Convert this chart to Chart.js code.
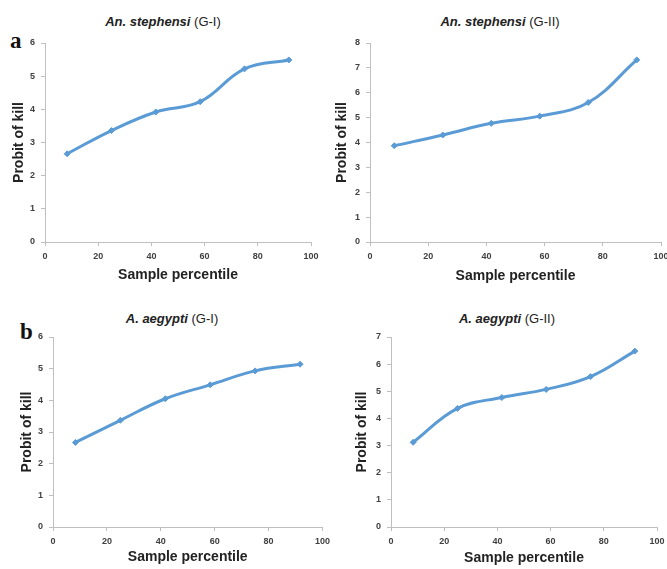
<!DOCTYPE html>
<html>
<head>
<meta charset="utf-8">
<script src="https://cdn.jsdelivr.net/npm/chart.js@4"></script>
<style>
    body { margin: 0; background: #fff; width: 667px; height: 569px; overflow: hidden; position: relative; }
    canvas { position: absolute; }
    .title { position: absolute; width: 300px; text-align: center; font: 13px 'Liberation Sans', Arial, sans-serif; line-height: 16px; color: #222; }
    .title i { font-weight: bold; }
    .tag { position: absolute; font: bold 23px 'Liberation Serif', 'Times New Roman', serif; line-height: 1; color: #111; }
</style>
</head>
<body>
<div class="tag" style="left:10px; top:29px;">a</div>
<div class="tag" style="left:20px; top:320px;">b</div>
<div class="title" style="left:13px; top:14px;"><i>An. stephensi</i> (G-I)</div>
<div class="title" style="left:350px; top:14px;"><i>An. stephensi</i> (G-II)</div>
<div class="title" style="left:22px; top:311px;"><i>A. aegypti</i> (G-I)</div>
<div class="title" style="left:357px; top:311px;"><i>A. aegypti</i> (G-II)</div>
<canvas id="c1"></canvas>
<canvas id="c2"></canvas>
<canvas id="c3"></canvas>
<canvas id="c4"></canvas>
<script>
// data
const percentiles = [8.33, 25, 41.67, 58.33, 75, 91.67];
const stephensiG1 = [2.66, 3.36, 3.92, 4.23, 5.22, 5.49];
const stephensiG2 = [3.87, 4.30, 4.77, 5.06, 5.61, 7.32];
const aegyptiG1 = [2.67, 3.37, 4.05, 4.49, 4.93, 5.14];
const aegyptiG2 = [3.12, 4.37, 4.77, 5.07, 5.54, 6.48];
const xTickMax = 100;
const yTickMax = [6, 8, 6, 7];

const lineColor = '#5b9bd5';
const axisColor = '#bfbfbf';
const tickFont = { family: "'Liberation Sans', Arial, sans-serif", size: 9, weight: 'bold' };
const titleFont = { family: "'Liberation Sans', Arial, sans-serif", size: 14, weight: 'bold' };

// canvas box + fixed axis sizes so the plot areas line up with the figure
function makeChart(id, values, yMax, box) {
    const canvas = document.getElementById(id);
    canvas.width = box.w;
    canvas.height = box.h;
    canvas.style.left = box.x + 'px';
    canvas.style.top = box.y + 'px';

    return new Chart(canvas.getContext('2d'), {
        type: 'line',
        data: {
            datasets: [{
                data: percentiles.map((p, i) => ({ x: p, y: values[i] })),
                borderColor: lineColor,
                backgroundColor: lineColor,
                borderWidth: 3,
                tension: 0.4,
                pointStyle: 'rectRot',
                pointRadius: 3,
                pointBorderWidth: 1
            }]
        },
        options: {
            responsive: false,
            devicePixelRatio: 1,
            animation: false,
            layout: { padding: { left: 0, top: box.padTop, right: box.padRight, bottom: 0 } },
            plugins: { legend: { display: false }, tooltip: { enabled: false } },
            scales: {
                x: {
                    type: 'linear',
                    min: 0,
                    max: xTickMax,
                    ticks: { stepSize: 20, color: '#404040', font: tickFont, padding: 5 },
                    grid: { drawOnChartArea: false, drawTicks: true, tickLength: 4, color: axisColor },
                    border: { color: axisColor },
                    title: { display: true, text: 'Sample percentile', color: '#222', font: titleFont, padding: { top: 0, bottom: box.xTitlePad } },
                    afterFit: scale => { scale.height = box.xHeight; }
                },
                y: {
                    min: 0,
                    max: yMax,
                    ticks: { stepSize: 1, color: '#404040', font: tickFont, padding: 6 },
                    grid: { drawOnChartArea: false, drawTicks: true, tickLength: 4, color: axisColor },
                    border: { color: axisColor },
                    title: { display: true, text: 'Probit of kill', color: '#222', font: titleFont, padding: { top: box.yTitlePad, bottom: 0 } },
                    afterFit: scale => { scale.width = box.yWidth; }
                }
            }
        }
    });
}

makeChart('c1', stephensiG1, yTickMax[0], { x: 0, y: 30, w: 330, h: 262, padTop: 13, padRight: 19, yWidth: 45, xHeight: 50, xTitlePad: 8, yTitlePad: 11 });
makeChart('c2', stephensiG2, yTickMax[1], { x: 330, y: 30, w: 345, h: 262, padTop: 13, padRight: 14, yWidth: 40, xHeight: 50, xTitlePad: 7, yTitlePad: 4 });
makeChart('c3', aegyptiG1, yTickMax[2], { x: 0, y: 322, w: 335, h: 247, padTop: 15, padRight: 11, yWidth: 53, xHeight: 42, xTitlePad: 3, yTitlePad: 19 });
makeChart('c4', aegyptiG2, yTickMax[3], { x: 335, y: 322, w: 340, h: 247, padTop: 15, padRight: 18, yWidth: 56, xHeight: 42, xTitlePad: 2, yTitlePad: 19 });
</script>
</body>
</html>
